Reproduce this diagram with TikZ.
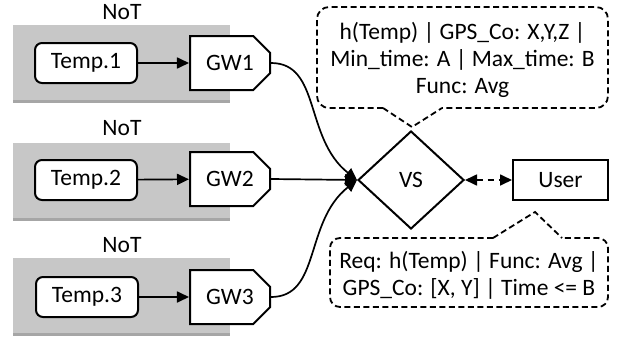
\documentclass[tikz,border=0pt]{standalone}
\usepackage{fontspec}
\setmainfont{Carlito}
\usetikzlibrary{arrows.meta,shapes.geometric,shapes.misc,shadows}
\begin{document}
\begin{tikzpicture}[x=1pt,y=-1pt,
  font=\fontsize{23.5}{28}\selectfont,
  notbox/.style={fill=black!22, draw=none, minimum width=217pt, minimum height=75pt,
     drop shadow={shadow xshift=0pt, shadow yshift=-3pt, opacity=0.35, fill=black}},
  sensor/.style={draw, line width=2pt, rounded corners=7pt, fill=white,
     minimum width=102pt, minimum height=40pt, inner sep=0pt},
  gw/.style={draw, line width=2pt, fill=white, chamfered rectangle,
     chamfered rectangle corners={north east,south east},
     chamfered rectangle xsep=9pt, chamfered rectangle ysep=9pt,
     minimum width=80pt, minimum height=54pt, inner sep=0pt},
  vsbox/.style={draw, line width=2pt, diamond, minimum width=106pt, minimum height=98pt, inner sep=0pt},
  userbox/.style={draw, line width=2pt, minimum width=95pt, minimum height=40pt, inner sep=0pt},
  link/.style={line width=1.7pt, -{Triangle[length=12pt,width=11pt]}},
  callout/.style={line width=1.8pt, dash pattern=on 6pt off 3.5pt},
  labeltext/.style={align=center, inner sep=0pt}
]
\useasboundingbox (0,0) rectangle (617,343);

% NoT groups
\node[notbox] (g1) at (121.5,62.5) {};
\node[notbox] (g2) at (121.5,180) {};
\node[notbox] (g3) at (121.5,295.5) {};
\node (n1) at (122,12) {NoT};
\node (n2) at (122,128) {NoT};
\node (n3) at (122,245) {NoT};

% sensors
\node[sensor] (t1) at (86,63) {Temp.1};
\node[sensor] (t2) at (86,180) {Temp.2};
\node[sensor] (t3) at (87,297) {Temp.3};

% gateways
\node[gw] (gw1) at (230,63) {GW1};
\node[gw] (gw2) at (230,179) {GW2};
\node[gw] (gw3) at (230,297) {GW3};

% VS and user
\node[vsbox] (vs) at (411,180) {VS};
\node[userbox] (user) at (560.5,180) {User};

% arrows
\draw[link] (t1) -- (gw1);
\draw[link] (t2) -- (gw2);
\draw[link] (t3) -- (gw3);
\draw[link] (gw1.east) .. controls +(50,0) and +(-53,-42) .. (vs.west);
\draw[link] (gw2.east) -- (vs.west);
\draw[link] (gw3.east) .. controls +(50,0) and +(-53,42) .. (vs.west);
\draw[line width=1.7pt, dash pattern=on 6pt off 5pt,
  {Triangle[length=12pt,width=11pt]}-{Triangle[length=12pt,width=11pt]}] (vs.east) -- (user.west);

% top callout
\node[labeltext] (c1) at (462.5,60) {h(Temp) | GPS\_Co: X,Y,Z |\\[-1pt] Min\_time: A | Max\_time: B\\[-1pt] Func: Avg};
\coordinate (tip1) at (412,127);
\draw[callout, rounded corners=12pt] (383,108) -- (317,108) -- (317,7) -- (608,7) -- (608,108) -- (442,108);
\draw[callout] (383,108) -- (tip1) -- (442,108);

% bottom callout
\node[labeltext] (c2) at (469,275) {Req: h(Temp) | Func: Avg |\\[-1pt] GPS\_Co: [X, Y] | Time <= B};
\coordinate (tip2) at (535,212);
\draw[callout, rounded corners=10pt] (493,238) -- (330,238) -- (330,307) -- (608,307) -- (608,238) -- (562,238);
\draw[callout] (493,238) -- (tip2) -- (562,238);
\end{tikzpicture}
\end{document}
